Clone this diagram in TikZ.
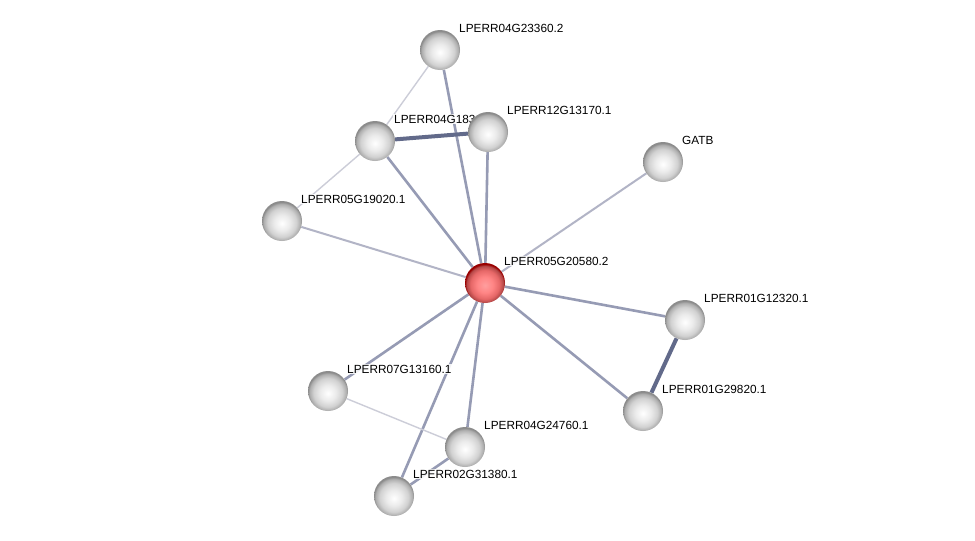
\documentclass[tikz,border=0pt]{standalone}
\usepackage{fontspec}
\setmainfont{Liberation Sans}
\usetikzlibrary{backgrounds}

\definecolor{edgeblue}{RGB}{150,155,180}
\definecolor{edgemid}{RGB}{178,180,198}
\definecolor{edgeweak}{RGB}{204,205,216}
\definecolor{edgestrong}{RGB}{98,106,138}

\pgfdeclareradialshading{greysphere}{\pgfpoint{0bp}{-3bp}}{%
  color(0bp)=(white); color(10bp)=(white!92!black); color(18bp)=(white!82!black);
  color(23bp)=(white!68!black); color(25bp)=(white!55!black); color(50bp)=(white!55!black)}
\pgfdeclareradialshading{redsphere}{\pgfpoint{0bp}{-3bp}}{%
  color(0bp)=(red!38!white); color(10bp)=(red!48!white); color(18bp)=(red!55!white!90!black);
  color(23bp)=(red!60!white!70!black); color(25bp)=(red!60!black); color(50bp)=(red!60!black)}

\begin{document}
\begin{tikzpicture}[
  x=1pt, y=-1pt,
  protein/.style={circle, minimum size=40pt, inner sep=0pt, shading=greysphere},
  query/.style={protein, shading=redsphere},
  protlabel/.style={anchor=base west, font=\fontsize{11.8}{14}\selectfont, fill=white, fill opacity=0.85, text opacity=1, inner sep=1pt},
  link/.style={line width=2.6pt, edgeblue},
  midlink/.style={line width=2pt, edgemid},
  weaklink/.style={line width=1.4pt, edgeweak},
  stronglink/.style={line width=4pt, edgestrong}
]
\useasboundingbox (0,0) rectangle (975,541);

\node[protein] (p23360) at (440,50) {};
\node[protlabel] (n23360) at ([shift={(18,-18)}]p23360.center) {LPERR04G23360.2};
\node[protein] (p183) at (375,141) {};
\node[protlabel] (n183) at ([shift={(18,-18)}]p183.center) {LPERR04G183};
\node[protein] (p13170) at (488,132) {};
\node[protlabel] (n13170) at ([shift={(18,-18)}]p13170.center) {LPERR12G13170.1};
\node[protein] (pgatb) at (663,162) {};
\node[protlabel] (ngatb) at ([shift={(18,-18)}]pgatb.center) {GATB};
\node[protein] (p19020) at (282,221) {};
\node[protlabel] (n19020) at ([shift={(18,-18)}]p19020.center) {LPERR05G19020.1};
\node[query] (p20580) at (485,283) {};
\node[protlabel] (n20580) at ([shift={(18,-18)}]p20580.center) {LPERR05G20580.2};
\node[protein] (p12320) at (685,320) {};
\node[protlabel] (n12320) at ([shift={(18,-18)}]p12320.center) {LPERR01G12320.1};
\node[protein] (p29820) at (643,411) {};
\node[protlabel] (n29820) at ([shift={(18,-18)}]p29820.center) {LPERR01G29820.1};
\node[protein] (p13160) at (328,391) {};
\node[protlabel] (n13160) at ([shift={(18,-18)}]p13160.center) {LPERR07G13160.1};
\node[protein] (p24760) at (465,447) {};
\node[protlabel] (n24760) at ([shift={(18,-18)}]p24760.center) {LPERR04G24760.1};
\node[protein] (p31380) at (394,496) {};
\node[protlabel] (n31380) at ([shift={(18,-18)}]p31380.center) {LPERR02G31380.1};

\begin{pgfonlayer}{background}
\fill[white] (0,0) rectangle (975,541);
\draw[link] (p20580) -- (p23360);
\draw[link] (p20580) -- (p183);
\draw[link] (p20580) -- (p13170);
\draw[midlink] (p20580) -- (pgatb);
\draw[midlink] (p20580) -- (p19020);
\draw[link] (p20580) -- (p12320);
\draw[link] (p20580) -- (p29820);
\draw[link] (p20580) -- (p13160);
\draw[link] (p20580) -- (p24760);
\draw[link] (p20580) -- (p31380);
\draw[weaklink] (p23360) -- (p183);
\draw[weaklink] (p183) -- (p19020);
\draw[stronglink] (p183) -- (p13170);
\draw[stronglink] (p12320) -- (p29820);
\draw[weaklink] (p13160) -- (p24760);
\draw[link] (p24760) -- (p31380);
\end{pgfonlayer}
\end{tikzpicture}
\end{document}
